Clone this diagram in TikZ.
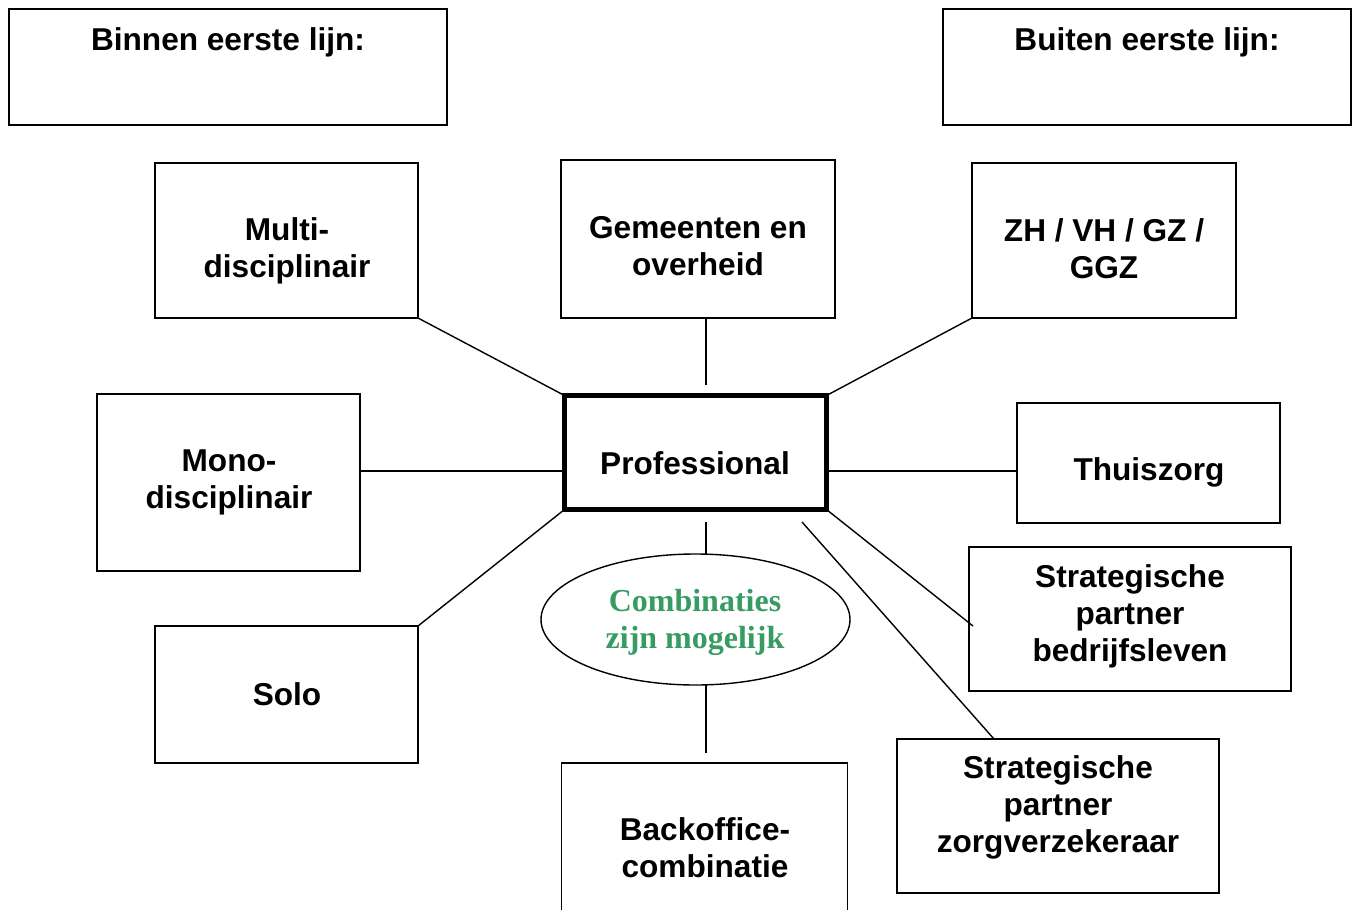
\documentclass[tikz,border=0pt]{standalone}
\usepackage{fontspec}
\setmainfont{Liberation Sans}
\newfontfamily\greenserif{Liberation Serif}
\usetikzlibrary{shapes.geometric}
\definecolor{combigreen}{RGB}{55,155,100}
\begin{document}
\begin{tikzpicture}[x=1pt,y=-1pt,
  box/.style={draw, line width=1.4pt, inner sep=0pt, outer sep=0pt, rectangle},
  thickbox/.style={box, line width=4.8pt},
  txt/.style={font=\bfseries\fontsize{31.6}{37}\selectfont, align=center, inner sep=0pt},
  greentxt/.style={font=\greenserif\bfseries\fontsize{32}{37}\selectfont, text=combigreen, align=center, inner sep=0pt},
  link/.style={line width=1.4pt}]
\useasboundingbox[fill=white] (0,0) rectangle (1352,910);

% boxes
\node[box, minimum width=438pt, minimum height=116pt] (binnen) at (228,67) {};
\node[box, minimum width=408pt, minimum height=116pt] (buiten) at (1147,67) {};
\node[box, minimum width=263pt, minimum height=155pt] (multi) at (286.5,240.5) {};
\node[box, minimum width=274pt, minimum height=158pt] (gem) at (698,239) {};
\node[box, minimum width=264pt, minimum height=155pt] (zh) at (1104,240.5) {};
\node[thickbox, minimum width=262pt, minimum height=114pt] (prof) at (695.5,452.5) {};
\node[box, minimum width=263pt, minimum height=177pt] (mono) at (228.5,482.5) {};
\node[box, minimum width=263pt, minimum height=120pt] (thu) at (1148.5,463) {};
\node[box, minimum width=263pt, minimum height=137pt] (solo) at (286.5,694.5) {};
\node[draw, ellipse, line width=1.4pt, inner sep=0pt, outer sep=0pt, minimum width=309pt, minimum height=131pt] (ell) at (695.5,619.5) {};
\node[box, minimum width=286pt, minimum height=197pt] (back) at (704.5,861.5) {};
\node[box, minimum width=322pt, minimum height=144pt] (sb) at (1130,619) {};
\node[box, minimum width=322pt, minimum height=154pt] (sz) at (1058,816) {};

% texts
\node[txt] (binnenT) at (228,42) {Binnen eerste lijn:};
\node[txt] (buitenT) at (1147,42) {Buiten eerste lijn:};
\node[txt] (multiT) at (287,251) {Multi-\\disciplinair};
\node[txt] (gemT) at (698,246) {Gemeenten en\\overheid};
\node[txt] (zhT) at (1104,249) {ZH / VH / GZ /\\GGZ};
\node[txt] (profT) at (695,463) {Professional};
\node[txt] (monoT) at (229,482) {Mono-\\disciplinair};
\node[txt] (thuT) at (1149,472) {Thuiszorg};
\node[txt] (soloT) at (287,694) {Solo};
\node[greentxt] (ellT) at (695,622) {Combinaties\\zijn mogelijk};
\node[txt] (sbT) at (1130,616) {Strategische\\partner\\bedrijfsleven};
\node[txt] (backT) at (705,848) {Backoffice-\\combinatie};
\node[txt] (szT) at (1058,807) {Strategische\\partner\\zorgverzekeraar};

% helper coordinates for free ends / offsets
\coordinate (yA) at (0,471);
\coordinate (yB) at (0,626);
\coordinate (xA) at (706,0);
\coordinate (xB) at (994,0);
\coordinate (xC) at (973,0);
\coordinate (gemEnd) at (706,385);
\coordinate (profLow) at (706,522);
\coordinate (profLowR) at (802,522);
\coordinate (backTop) at (706,753);

% connectors
\draw[link] (multi.south east) -- (prof.north west);
\draw[link] (gem.south -| xA) -- (gemEnd);
\draw[link] (zh.south west) -- (prof.north east);
\draw[link] (mono.east |- yA) -- (prof.west |- yA);
\draw[link] (prof.east |- yA) -- (thu.west |- yA);
\draw[link] (prof.south west) -- (solo.north east);
\draw[link] (prof.south east) -- (xC |- yB);
\draw[link] (profLowR) -- (sz.north -| xB);
\draw[link] (profLow) -- (ell.north -| xA);
\draw[link] (ell.south -| xA) -- (backTop);
\end{tikzpicture}
\end{document}
